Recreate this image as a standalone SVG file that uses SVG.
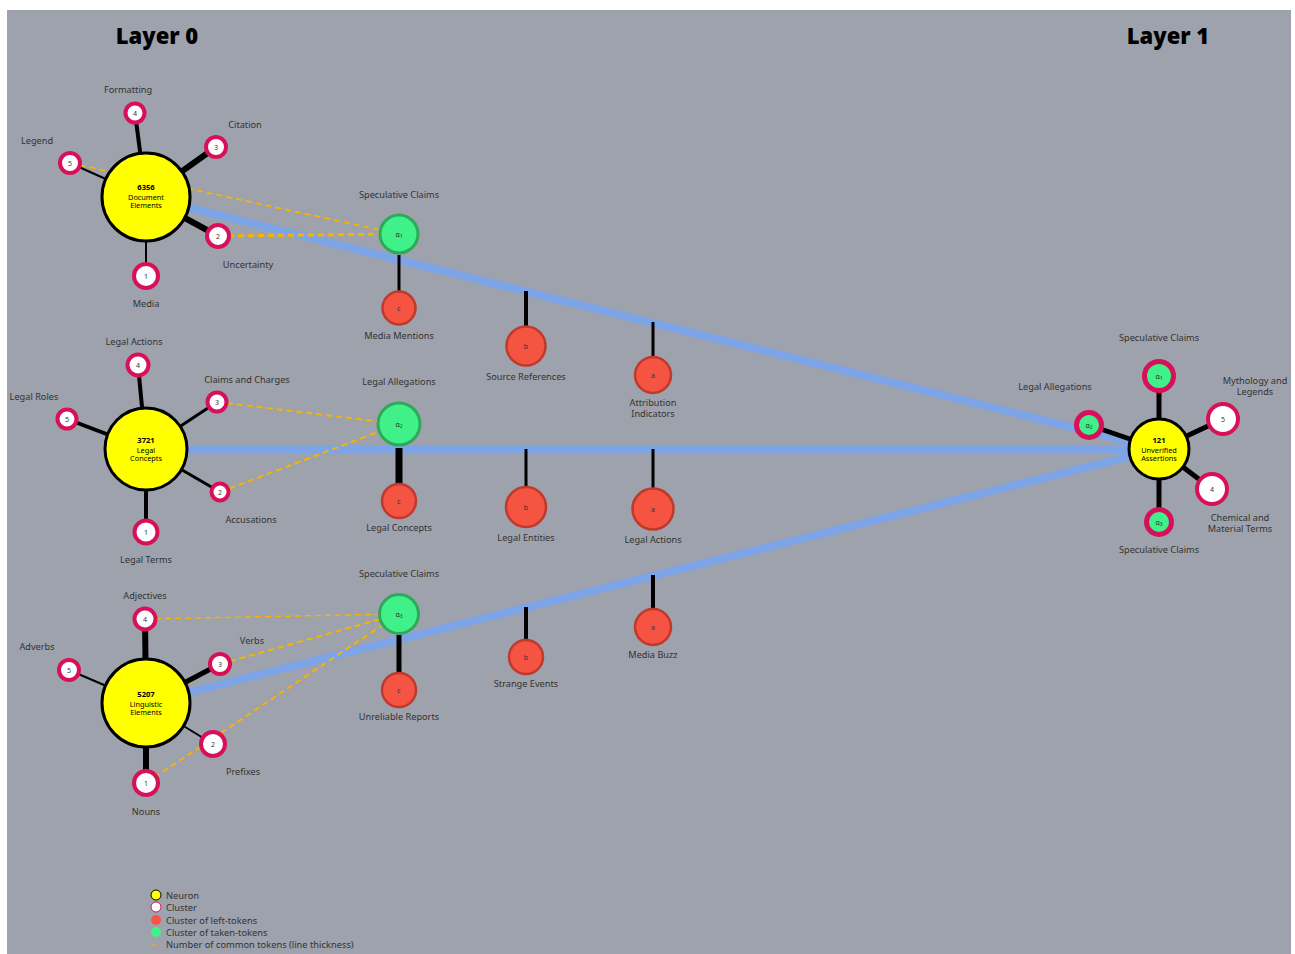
<svg xmlns="http://www.w3.org/2000/svg" width="1295" height="954" viewBox="0 0 1295 954">
<style>
text{font-family:"Noto Sans","Open Sans","Liberation Sans",sans-serif;fill:#333}
.lbl{font-size:9.2px;text-anchor:middle}
.title{font-size:22px;font-weight:900;fill:#000;text-anchor:middle}
.nt{font-size:7.3px;text-anchor:middle;fill:#000}
.nb{font-size:7.6px;font-weight:bold;text-anchor:middle;fill:#000}
.sn{font-size:7px;text-anchor:middle;fill:#333}
.neu{fill:#ffff00;stroke:#000;stroke-width:3}
.sat{fill:#fff;stroke:#d8105a;stroke-width:4}
.sata{fill:#40f088;stroke:#d8105a;stroke-width:5}
.alpha{fill:#40f088;stroke:#2fa85a;stroke-width:3}
.red{fill:#f55443;stroke:#bf3a2c;stroke-width:2.5}
.blue{stroke:#7ea4e8;fill:none;stroke-width:8}
.blk{stroke:#000;fill:none}
.dash{stroke:#f5b400;fill:none;stroke-dasharray:6 4}
.leg{font-size:9.3px}
</style>
<rect x="7" y="10" width="1284" height="944" fill="#9da2ac"/>
<text class="title" x="157" y="44">Layer 0</text>
<text class="title" x="1168" y="44">Layer 1</text>

<g id="connectors">
  <line class="blue" x1="146" y1="197" x2="1159" y2="449"/>
  <line class="blue" x1="146" y1="449" x2="1159" y2="449"/>
  <line class="blue" x1="146" y1="703" x2="1159" y2="449"/>
  <line class="blk" x1="146" y1="197" x2="135" y2="113" stroke-width="4"/>
  <line class="blk" x1="146" y1="197" x2="216" y2="147" stroke-width="6"/>
  <line class="blk" x1="146" y1="197" x2="70" y2="163" stroke-width="2"/>
  <line class="blk" x1="146" y1="197" x2="218" y2="236" stroke-width="6"/>
  <line class="blk" x1="146" y1="197" x2="146" y2="276" stroke-width="2"/>
  <line class="blk" x1="146" y1="449" x2="138" y2="365" stroke-width="4"/>
  <line class="blk" x1="146" y1="449" x2="217" y2="402" stroke-width="3"/>
  <line class="blk" x1="146" y1="449" x2="67" y2="419" stroke-width="4"/>
  <line class="blk" x1="146" y1="449" x2="220" y2="492" stroke-width="3"/>
  <line class="blk" x1="146" y1="449" x2="146" y2="532" stroke-width="4"/>
  <line class="blk" x1="146" y1="703" x2="145" y2="619" stroke-width="6"/>
  <line class="blk" x1="146" y1="703" x2="220" y2="664" stroke-width="5"/>
  <line class="blk" x1="146" y1="703" x2="69" y2="670" stroke-width="2"/>
  <line class="blk" x1="146" y1="703" x2="213" y2="744" stroke-width="2"/>
  <line class="blk" x1="146" y1="703" x2="146" y2="783" stroke-width="6"/>
  <line class="blk" x1="1159" y1="449" x2="1159" y2="376" stroke-width="5"/>
  <line class="blk" x1="1159" y1="449" x2="1089" y2="425" stroke-width="5"/>
  <line class="blk" x1="1159" y1="449" x2="1223" y2="419" stroke-width="5"/>
  <line class="blk" x1="1159" y1="449" x2="1212" y2="489" stroke-width="5"/>
  <line class="blk" x1="1159" y1="449" x2="1159" y2="522" stroke-width="5"/>
  <line class="blk" x1="399" y1="255" x2="399" y2="292" stroke-width="3"/>
  <line class="blk" x1="526" y1="291" x2="526" y2="328" stroke-width="4"/>
  <line class="blk" x1="653" y1="322" x2="653" y2="358" stroke-width="3"/>
  <line class="blk" x1="399" y1="448" x2="399" y2="485" stroke-width="7"/>
  <line class="blk" x1="526" y1="449" x2="526" y2="488" stroke-width="3"/>
  <line class="blk" x1="653" y1="449" x2="653" y2="490" stroke-width="3"/>
  <line class="blk" x1="399" y1="635" x2="399" y2="674" stroke-width="5"/>
  <line class="blk" x1="526" y1="607" x2="526" y2="641" stroke-width="4"/>
  <line class="blk" x1="653" y1="575" x2="653" y2="610" stroke-width="4"/>
  <line class="dash" x1="70" y1="163" x2="399" y2="234" stroke-width="1.8"/>
  <line class="dash" x1="218" y1="236" x2="399" y2="234" stroke-width="3"/>
  <line class="dash" x1="217" y1="402" x2="399" y2="424" stroke-width="2"/>
  <line class="dash" x1="220" y1="492" x2="399" y2="424" stroke-width="2"/>
  <line class="dash" x1="145" y1="619" x2="399" y2="614" stroke-width="1.5"/>
  <line class="dash" x1="220" y1="664" x2="399" y2="614" stroke-width="2"/>
  <line class="dash" x1="146" y1="783" x2="399" y2="614" stroke-width="2"/>
</g>

<g id="n-document-elements">
  <circle class="neu" cx="146" cy="197" r="44"/>
  <text class="nb" x="146" y="190">6356</text>
  <text class="nt" x="146" y="199.5">Document</text>
  <text class="nt" x="146" y="207.5">Elements</text>
</g>
<g id="n-de-4"><circle class="sat" cx="135" cy="113" r="9.5"/><text class="sn" x="135" y="116">4</text><text class="lbl" x="128" y="93">Formatting</text></g>
<g id="n-de-3"><circle class="sat" cx="216" cy="147" r="10"/><text class="sn" x="216" y="150">3</text><text class="lbl" x="245" y="128">Citation</text></g>
<g id="n-de-5"><circle class="sat" cx="70" cy="163" r="10"/><text class="sn" x="70" y="166">5</text><text class="lbl" x="37" y="144">Legend</text></g>
<g id="n-de-2"><circle class="sat" cx="218" cy="236" r="11"/><text class="sn" x="218" y="239">2</text><text class="lbl" x="248" y="268">Uncertainty</text></g>
<g id="n-de-1"><circle class="sat" cx="146" cy="276" r="12"/><text class="sn" x="146" y="279">1</text><text class="lbl" x="146" y="307">Media</text></g>

<g id="n-legal-concepts">
  <circle class="neu" cx="146" cy="449" r="41"/>
  <text class="nb" x="146" y="443">3721</text>
  <text class="nt" x="146" y="452.5">Legal</text>
  <text class="nt" x="146" y="460.5">Concepts</text>
</g>
<g id="n-lc-4"><circle class="sat" cx="138" cy="365" r="10.5"/><text class="sn" x="138" y="368">4</text><text class="lbl" x="134" y="345">Legal Actions</text></g>
<g id="n-lc-3"><circle class="sat" cx="217" cy="402" r="9.5"/><text class="sn" x="217" y="405">3</text><text class="lbl" x="247" y="383">Claims and Charges</text></g>
<g id="n-lc-5"><circle class="sat" cx="67" cy="419" r="9.5"/><text class="sn" x="67" y="422">5</text><text class="lbl" x="34" y="400">Legal Roles</text></g>
<g id="n-lc-2"><circle class="sat" cx="220" cy="492" r="8.5"/><text class="sn" x="220" y="495">2</text><text class="lbl" x="251" y="523">Accusations</text></g>
<g id="n-lc-1"><circle class="sat" cx="146" cy="532" r="11.5"/><text class="sn" x="146" y="535">1</text><text class="lbl" x="146" y="563">Legal Terms</text></g>

<g id="n-linguistic-elements">
  <circle class="neu" cx="146" cy="703" r="44"/>
  <text class="nb" x="146" y="697">5207</text>
  <text class="nt" x="146" y="706.5">Linguistic</text>
  <text class="nt" x="146" y="714.5">Elements</text>
</g>
<g id="n-le-4"><circle class="sat" cx="145" cy="619" r="10.5"/><text class="sn" x="145" y="622">4</text><text class="lbl" x="145" y="599">Adjectives</text></g>
<g id="n-le-3"><circle class="sat" cx="220" cy="664" r="10"/><text class="sn" x="220" y="667">3</text><text class="lbl" x="252" y="644">Verbs</text></g>
<g id="n-le-5"><circle class="sat" cx="69" cy="670" r="10"/><text class="sn" x="69" y="673">5</text><text class="lbl" x="37" y="650">Adverbs</text></g>
<g id="n-le-2"><circle class="sat" cx="213" cy="744" r="12"/><text class="sn" x="213" y="747">2</text><text class="lbl" x="243" y="775">Prefixes</text></g>
<g id="n-le-1"><circle class="sat" cx="146" cy="783" r="12"/><text class="sn" x="146" y="786">1</text><text class="lbl" x="146" y="815">Nouns</text></g>

<g id="n-alpha1"><circle class="alpha" cx="399" cy="234" r="19"/><text class="sn" x="399" y="237">α₁</text><text class="lbl" x="399" y="198">Speculative Claims</text></g>
<g id="n-alpha2"><circle class="alpha" cx="399" cy="424" r="21"/><text class="sn" x="399" y="427">α₂</text><text class="lbl" x="399" y="385">Legal Allegations</text></g>
<g id="n-alpha3"><circle class="alpha" cx="399" cy="614" r="19.5"/><text class="sn" x="399" y="617">α₃</text><text class="lbl" x="399" y="577">Speculative Claims</text></g>

<g id="n-c1"><circle class="red" cx="399" cy="308" r="16.5"/><text class="sn" x="399" y="311">c</text><text class="lbl" x="399" y="339">Media Mentions</text></g>
<g id="n-b1"><circle class="red" cx="526" cy="346" r="19.5"/><text class="sn" x="526" y="349">b</text><text class="lbl" x="526" y="380">Source References</text></g>
<g id="n-a1"><circle class="red" cx="653" cy="375" r="18"/><text class="sn" x="653" y="378">a</text><text class="lbl" x="653" y="406">Attribution</text><text class="lbl" x="653" y="416.5">Indicators</text></g>

<g id="n-c2"><circle class="red" cx="399" cy="501" r="17"/><text class="sn" x="399" y="504">c</text><text class="lbl" x="399" y="531">Legal Concepts</text></g>
<g id="n-b2"><circle class="red" cx="526" cy="507" r="20"/><text class="sn" x="526" y="510">b</text><text class="lbl" x="526" y="541">Legal Entities</text></g>
<g id="n-a2"><circle class="red" cx="653" cy="509" r="20.5"/><text class="sn" x="653" y="512">a</text><text class="lbl" x="653" y="543">Legal Actions</text></g>

<g id="n-c3"><circle class="red" cx="399" cy="690" r="17"/><text class="sn" x="399" y="693">c</text><text class="lbl" x="399" y="720">Unreliable Reports</text></g>
<g id="n-b3"><circle class="red" cx="526" cy="657" r="17"/><text class="sn" x="526" y="660">b</text><text class="lbl" x="526" y="687">Strange Events</text></g>
<g id="n-a3"><circle class="red" cx="653" cy="627" r="18"/><text class="sn" x="653" y="630">a</text><text class="lbl" x="653" y="658">Media Buzz</text></g>

<g id="n-unverified-assertions">
  <circle class="neu" cx="1159" cy="449" r="30"/>
  <text class="nb" x="1159" y="443">121</text>
  <text class="nt" x="1159" y="452.5">Unverified</text>
  <text class="nt" x="1159" y="460.5">Assertions</text>
</g>
<g id="n-ua-a1"><circle class="sata" cx="1159" cy="376" r="14.5"/><text class="sn" x="1159" y="379">α₁</text><text class="lbl" x="1159" y="341">Speculative Claims</text></g>
<g id="n-ua-a2"><circle class="sata" cx="1089" cy="425" r="12.5"/><text class="sn" x="1089" y="428">α₂</text><text class="lbl" x="1055" y="390">Legal Allegations</text></g>
<g id="n-ua-5"><circle class="sat" cx="1223" cy="419" r="15"/><text class="sn" x="1223" y="422">5</text><text class="lbl" x="1255" y="384">Mythology and</text><text class="lbl" x="1255" y="394.5">Legends</text></g>
<g id="n-ua-4"><circle class="sat" cx="1212" cy="489" r="15"/><text class="sn" x="1212" y="492">4</text><text class="lbl" x="1240" y="521">Chemical and</text><text class="lbl" x="1240" y="531.5">Material Terms</text></g>
<g id="n-ua-a3"><circle class="sata" cx="1159" cy="522" r="12.5"/><text class="sn" x="1159" y="525">α₃</text><text class="lbl" x="1159" y="553">Speculative Claims</text></g>

<g id="legend">
  <circle cx="156" cy="895" r="5" fill="#ffff00" stroke="#000" stroke-width="1"/>
  <circle cx="156" cy="907" r="5" fill="#fff" stroke="#d8105a" stroke-width="1"/>
  <circle cx="156" cy="920" r="5" fill="#f55443"/>
  <circle cx="156" cy="932" r="5" fill="#40f088"/>
  <line x1="151" y1="945" x2="162" y2="945" class="dash" stroke-width="1" stroke-dasharray="3 2"/>
  <text class="leg" x="166" y="898.5">Neuron</text>
  <text class="leg" x="166" y="910.5">Cluster</text>
  <text class="leg" x="166" y="923.5">Cluster of left-tokens</text>
  <text class="leg" x="166" y="935.5">Cluster of taken-tokens</text>
  <text class="leg" x="166" y="947.5">Number of common tokens (line thickness)</text>
</g>
</svg>
